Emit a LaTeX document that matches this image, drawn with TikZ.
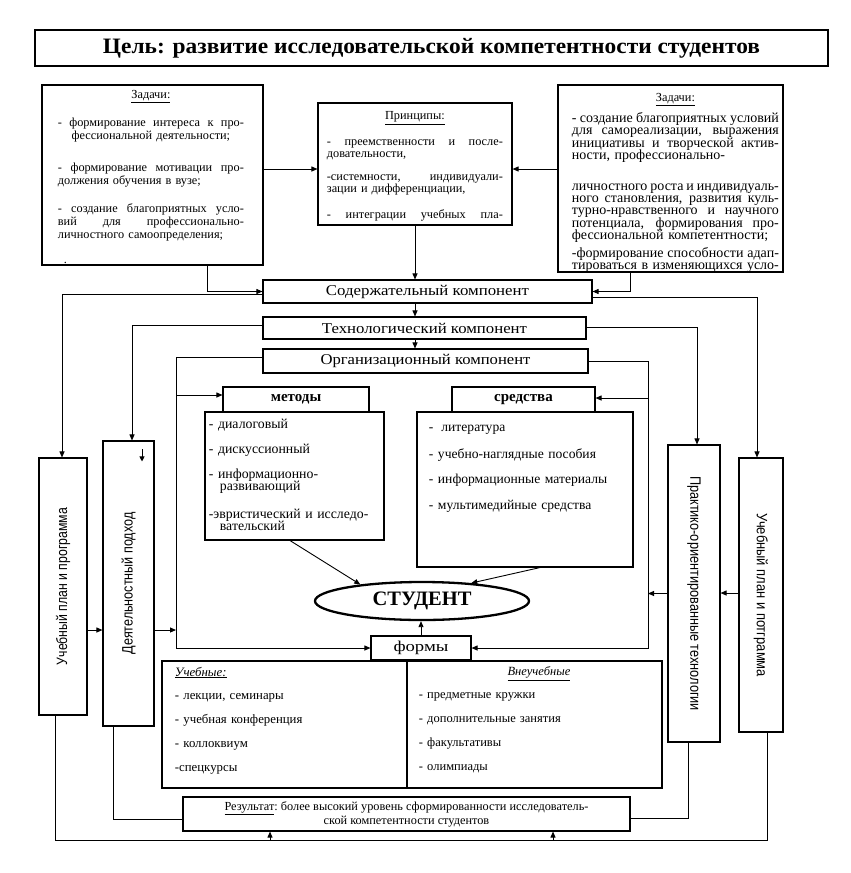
\documentclass[tikz,border=0pt]{standalone}
\usepackage{fontspec}
\setmainfont{Liberation Serif}
\setsansfont{Liberation Sans}
\usepackage{graphicx}
\usetikzlibrary{arrows.meta,shapes.geometric}
\newcommand\Jl[1]{\hbox to\hsize{\spaceskip=.25em plus 1fil minus .1em\relax #1}}
\newcommand\Ll[1]{\hbox to\hsize{#1\hfil}}
\newcommand\Cl[1]{\hbox to\hsize{\hfil#1\hfil}}
\newcommand\Fit[2]{\resizebox{#1}{\height}{#2}}
\begin{document}
\begin{tikzpicture}[x=1pt,y=-1pt,line width=0.9pt,
  box/.style={draw,line width=1.1pt,inner sep=0pt},
  arr/.style={-{Triangle[length=6pt,width=5pt]}},
  txt/.style={anchor=north west,inner sep=0pt,font=\fontsize{12}{13}\selectfont},
  comp/.style={box,font=\fontsize{15}{15}\selectfont},
  vtext/.style={inner sep=0pt,font=\sffamily\fontsize{15}{15}\selectfont}]
\path[fill=white] (0,0) rectangle (851,873);
\useasboundingbox (0,0) rectangle (851,873);

% title
\node[box,minimum width=793pt,minimum height=36pt] (title) at (431.5,48)
  {\Fit{657pt}{\bfseries\fontsize{22}{22}\selectfont Цель: развитие исследовательской компетентности студентов}};

% top boxes
\node[box,minimum width=221pt,minimum height=180pt] (tl) at (152.5,175) {};
\node[box,minimum width=194pt,minimum height=122pt] (pr) at (415,164) {};
\node[box,minimum width=225pt,minimum height=187pt] (tr) at (670.5,178.5) {};

\node[txt,text width=186pt,font=\fontsize{12.3}{13}\selectfont] (tlt) at ([xshift=16pt,yshift=-5pt]tl.north west) {%
\Cl{\underline{Задачи:}}\vskip 15pt
\Jl{- формирование интереса к про-}
\Cl{фессиональной деятельности;}\vskip 19pt
\Jl{- формирование мотивации про-}
\Ll{должения обучения в вузе;}\vskip 15pt
\Jl{- создание благоприятных усло-}
\Jl{вий для профессионально-}
\Ll{личностного самоопределения;}\vskip 12pt
\Ll{\hskip 6pt.}};

\node[txt,text width=176pt,font=\fontsize{12.3}{12.5}\selectfont] (prt) at ([xshift=9pt,yshift=-9pt]pr.north west) {%
\Cl{\underline{Принципы:}}\vskip 13pt
\Jl{- преемственности и после-}
\Ll{довательности,}\vskip 10pt
\Jl{-системности, индивидуали-}
\Ll{зации и дифференциации,}\vskip 13pt
\Jl{- интеграции учебных пла-}};

\node[txt,text width=207pt,font=\fontsize{14}{12.4}\selectfont] (trt) at ([xshift=14pt,yshift=-8pt]tr.north west) {%
\lineskiplimit=-20pt
\Cl{\fontsize{12.3}{12.4}\selectfont\underline{Задачи:}}\vskip 9pt
\Jl{- создание благоприятных условий}
\Jl{для самореализации, выражения}
\Jl{инициативы и творческой актив-}
\Ll{ности, профессионально-}\vskip 18pt
\Jl{личностного роста и индивидуаль-}
\Jl{ного становления, развития куль-}
\Jl{турно-нравственного и научного}
\Jl{потенциала, формирования про-}
\Ll{фессиональной компетентности;}\vskip 5pt
\Jl{-формирование способности адап-}
\Jl{тироваться в изменяющихся усло-}};

% components
\node[comp,minimum width=329pt,minimum height=23pt] (cont) at (427.5,291.5) {\Fit{203pt}{Содержательный компонент}};
\node[comp,minimum width=323pt,minimum height=22pt] (tech) at (424.5,328) {\Fit{205pt}{Технологический компонент}};
\node[comp,minimum width=325pt,minimum height=24pt] (org) at (425.5,361) {\Fit{210pt}{Организационный компонент}};

% vertical boxes
\node[box,minimum width=48pt,minimum height=257pt] (uL) at (63,586.5) {};
\node[box,minimum width=51pt,minimum height=285pt] (dp) at (128.5,583.5) {};
\node[box,minimum width=52pt,minimum height=297pt] (pt) at (694,593.5) {};
\node[box,minimum width=44pt,minimum height=274pt] (uR) at (761,595) {};
\node[vtext,rotate=90] (uLt) at (uL.center) {\Fit{157pt}{Учебный план и программа}};
\node[vtext,rotate=90] (dpt) at (dp.center) {\Fit{142pt}{Деятельностный подход}};
\node[vtext,rotate=-90] (ptt) at (pt.center) {\Fit{235pt}{Практико-ориентированные технологии}};
\node[vtext,rotate=-90] (uRt) at (uR.center) {\Fit{164pt}{Учебный план и потграмма}};

% methods / means
\node[box,minimum width=146pt,minimum height=25pt,font=\bfseries\fontsize{15}{15}\selectfont] (metH) at (296,399.5) {методы};
\node[box,minimum width=179pt,minimum height=128pt] (metB) at (294.5,476) {};
\node[box,minimum width=143pt,minimum height=25pt,font=\bfseries\fontsize{15}{15}\selectfont] (meanH) at (523.5,399.5) {средства};
\node[box,minimum width=216pt,minimum height=155pt] (meanB) at (525,489.5) {};

\node[txt,text width=175pt,font=\fontsize{13.8}{12.5}\selectfont] (mett) at ([xshift=4pt,yshift=-7pt]metB.north west) {%
\lineskiplimit=-20pt
\Ll{- диалоговый}\vskip 12.5pt
\Ll{- дискуссионный}\vskip 12.5pt
\Ll{- информационно-}
\Ll{\hskip 11pt развивающий}\vskip 15pt
\Ll{-эвристический и исследо-}
\Ll{\hskip 11pt вательский}};

\node[txt,text width=200pt,font=\fontsize{13.6}{12.5}\selectfont] (meant) at ([xshift=12pt,yshift=-13pt]meanB.north west) {%
\lineskiplimit=-20pt
\Ll{-\hskip 8pt литература}\vskip 15pt
\Ll{- учебно-наглядные пособия}\vskip 12.5pt
\Ll{- информационные материалы}\vskip 13.5pt
\Ll{- мультимедийные средства}};

% student
\node[draw,ellipse,line width=2.3pt,minimum width=214pt,minimum height=38pt,inner sep=0pt,
  font=\bfseries\fontsize{20.5}{20.5}\selectfont] (stud) at (422,601) {СТУДЕНТ};

% forms
\node[box,minimum width=100pt,minimum height=24pt] (formy) at (421,648) {\Fit{55pt}{\fontsize{15}{15}\selectfont формы}};
\node[box,minimum width=245pt,minimum height=127pt] (fL) at (284.5,724.5) {};
\node[box,minimum width=255pt,minimum height=127pt] (fR) at (534.5,724.5) {};

\node[txt,text width=225pt,font=\fontsize{12.8}{13}\selectfont] (fLt) at ([xshift=13pt,yshift=-6pt]fL.north west) {%
\Ll{\textit{\underline{Учебные:}}}\vskip 10pt
\Ll{- лекции, семинары}\vskip 11pt
\Ll{- учебная конференция}\vskip 11pt
\Ll{- коллоквиум}\vskip 11pt
\Ll{-спецкурсы}};

\node[txt,text width=240pt,font=\fontsize{12.5}{13}\selectfont] (fRt) at ([xshift=12pt,yshift=-6pt]fR.north west) {%
\Cl{\textit{\underline{Внеучебные}}}\vskip 10pt
\Ll{- предметные кружки}\vskip 11pt
\Ll{- дополнительные занятия}\vskip 11pt
\Ll{- факультативы}\vskip 11pt
\Ll{- олимпиады}};

% result
\node[box,minimum width=447pt,minimum height=34pt,align=center,font=\fontsize{12.3}{13}\selectfont] (res) at (406.5,814)
  {\underline{Результат}:\ более высокий уровень сформированности исследователь-\\ской компетентности студентов};

% helper coordinates
\coordinate (Lcol) at (176,360);
\coordinate (Rcol) at (648,360);
\coordinate (bot) at (0,840);

% connectors top
\draw[arr] ([yshift=6pt]tl.east) -- ([yshift=6pt]tl.east -| pr.west);
\draw[arr] ([yshift=6pt]tl.east -| tr.west) -- ([yshift=6pt]tl.east -| pr.east);
\draw[arr] (pr.south) -- (pr.south |- cont.north);
\draw[arr] ([xshift=54.5pt]tl.south) |- (cont.west);
\draw[arr] ([xshift=-40.5pt]tr.south) |- (cont.east);
\draw[arr] (pr.south |- cont.south) -- (pr.south |- tech.north);
\draw[arr] (pr.south |- tech.south) -- (pr.south |- org.north);

% components to side boxes
\draw[arr] ([yshift=-2.5pt]cont.west) -| ([xshift=-1pt]uL.north);
\draw[arr] ([yshift=-6pt]cont.east) -| ([xshift=-4pt]uR.north);
\draw[arr] ([yshift=3pt]tech.west) -| ([xshift=3.5pt]dp.north);
\draw[arr] ([yshift=1pt]tech.east) -| ([xshift=3pt]pt.north);
\draw[arr] ([yshift=4pt]org.west) -| (Lcol |- formy.west) -- (formy.west);
\draw[arr] (org.east) -| (Rcol |- formy.east) -- (formy.east);
\draw[arr] ([yshift=4.5pt]metH.west -| Lcol) -- ([yshift=4.5pt]metH.west);
\draw[arr] ([yshift=1.5pt]meanH.east -| Rcol) -- ([yshift=1.5pt]meanH.east);

% inside to student
\draw[arr] ([xshift=-4.5pt]metB.south) -- (stud.165);
\draw[arr] ([xshift=15pt]meanB.south) -- (stud.20);
\draw[arr] (formy.north) -- (formy.north |- stud.south);

% side boxes horizontal
\draw[arr] ([yshift=-43.5pt]uL.east) -- ([yshift=-43.5pt]uL.east -| dp.west);
\draw[arr] ([yshift=-46.5pt]dp.east) -- ([yshift=-46.5pt]dp.east -| Lcol);
\draw[arr] ([yshift=2pt]uR.west) -- ([yshift=2pt]uR.west -| pt.east);
\draw[arr] (pt.west) -- (pt.west -| Rcol);
\draw[arr,-{Triangle[length=5pt,width=5pt]}] ([xshift=13.5pt,yshift=-9pt]dp.north) -- ([xshift=13.5pt,yshift=-21pt]dp.north);

% bottom loops
\draw ([xshift=-15.5pt]dp.south) |- ([yshift=-5pt]res.west);
\draw ([xshift=-6pt]pt.south) |- ([yshift=-4pt]res.east);
\draw ([xshift=-8pt]uL.south) -- ([xshift=-8pt]uL.south |- bot) -- ([xshift=6pt]uR.south |- bot) -- ([xshift=6pt]uR.south);
\draw[arr] ([xshift=-136.5pt]res.south |- bot) -- ([xshift=-136.5pt]res.south);
\draw[arr] ([xshift=146.5pt]res.south |- bot) -- ([xshift=146.5pt]res.south);
\end{tikzpicture}
\end{document}
